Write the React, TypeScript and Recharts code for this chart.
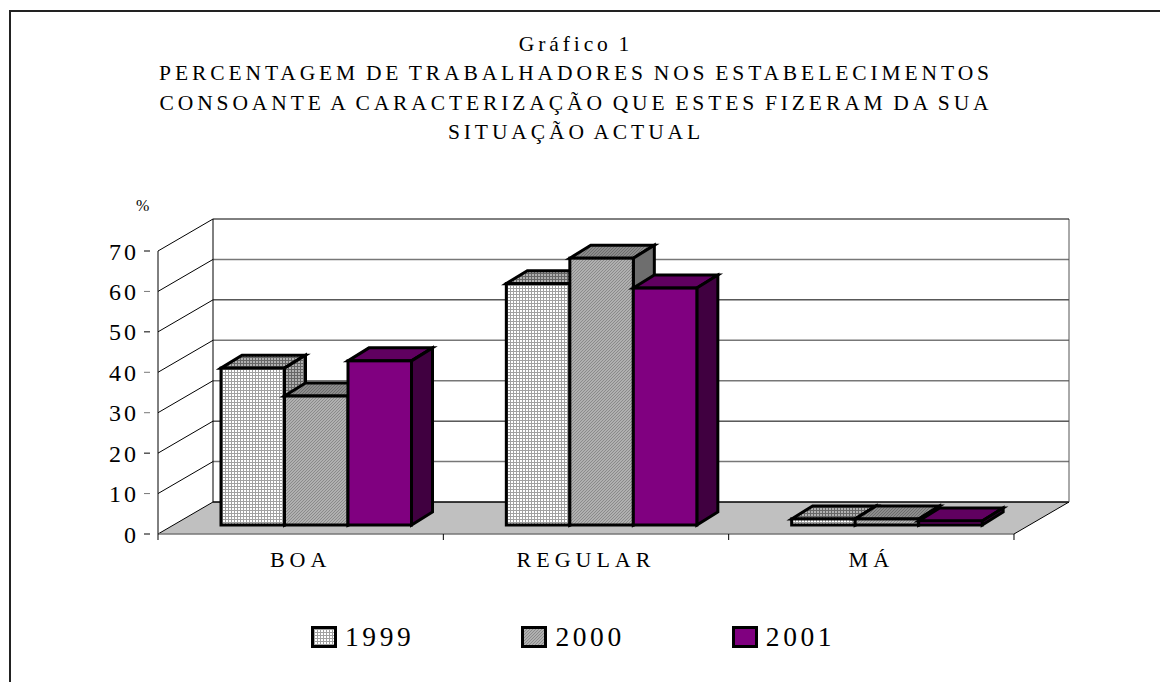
import { BarChart, Bar, XAxis, YAxis, CartesianGrid, Legend } from 'recharts';

const categories = ['BOA', 'REGULAR', 'MÁ'];
const values1999 = [38.8, 59.7, 1.5];
const values2000 = [31.9, 66, 1.5];
const values2001 = [40.6, 58.6, 1];
const yTicks = [0, 10, 20, 30, 40, 50, 60, 70];
const greyTicks = [10, 30, 40, 60];
const titleLines = [
  'Gráfico 1',
  'PERCENTAGEM DE TRABALHADORES NOS ESTABELECIMENTOS',
  'CONSOANTE A CARACTERIZAÇÃO QUE ESTES FIZERAM DA SUA',
  'SITUAÇÃO ACTUAL',
];

const data = categories.map((name, i) => ({
  name,
  y1999: values1999[i],
  y2000: values2000[i],
  y2001: values2001[i],
}));

const serif = '"Liberation Serif", serif';

// how far the back wall sits behind the axes, and the bars behind the axes
const WALL_DX = 55;
const WALL_DY = -32;
const BAR_DX = 16;
const BAR_DY = -9;
const DEPTH_DX = 21;
const DEPTH_DY = -13;

function gridLine(props: any) {
  const { x1, x2, y1, index } = props;
  const isFloor = y1 > 530;
  const isTop = y1 < 260;
  // the scan blurs some of the wall lines to grey
  const tick = Math.round((534 - y1) / 40.43) * 10;
  const grey = greyTicks.includes(tick);
  return (
    <g key={index}>
      {isFloor && (
        <path
          d={`M${x1} ${y1} L${x1 + WALL_DX} ${y1 + WALL_DY} L${x2 + WALL_DX} ${y1 + WALL_DY} L${x2} ${y1} Z`}
          fill="#c0c0c0"
        />
      )}
      {isFloor && (
        <line x1={x2} y1={y1} x2={x2 + WALL_DX} y2={y1 + WALL_DY} stroke="#000" />
      )}
      {isTop && (
        <line x1={x2 + WALL_DX} y1={y1 + WALL_DY} x2={x2 + WALL_DX} y2={y1 + WALL_DY + 283} stroke="#555" />
      )}
      <line x1={x1} y1={y1} x2={x1 + WALL_DX} y2={y1 + WALL_DY} stroke="#000" />
      <line
        x1={x1 + WALL_DX}
        y1={y1 + WALL_DY}
        x2={x2 + WALL_DX}
        y2={y1 + WALL_DY}
        stroke={grey ? '#777' : '#000'}
        strokeWidth={isFloor ? 1.5 : grey ? 1.5 : 1}
      />
      {isTop && (
        <line x1={x1 + WALL_DX} y1={y1 + WALL_DY} x2={x1 + WALL_DX} y2={y1 + WALL_DY + 283} stroke="#000" />
      )}
    </g>
  );
}

function bar3d(front: string, top: string, side: string) {
  return (props: any) => {
    const x = props.x + BAR_DX;
    const y = props.y + BAR_DY;
    const w = props.width;
    const h = props.height;
    return (
      <g stroke="#000" strokeWidth={3} strokeLinejoin="miter">
        <path
          d={`M${x} ${y} L${x + DEPTH_DX} ${y + DEPTH_DY} L${x + w + DEPTH_DX} ${y + DEPTH_DY} L${x + w} ${y} Z`}
          fill={top}
        />
        <path
          d={`M${x + w} ${y} L${x + w + DEPTH_DX} ${y + DEPTH_DY} L${x + w + DEPTH_DX} ${y + h + DEPTH_DY} L${x + w} ${y + h} Z`}
          fill={side}
        />
        <rect x={x} y={y} width={w} height={h} fill={front} />
      </g>
    );
  };
}

function yTick(props: any) {
  const { x, y, payload } = props;
  return (
    <g>
      <line x1={x - 6} y1={y} x2={x} y2={y} stroke={greyTicks.includes(payload.value) ? '#777' : '#000'} />
      <text x={x - 11} y={y + 8.5} textAnchor="end" fontFamily={serif} fontSize={24} letterSpacing={3} fill="#000">
        {payload.value}
      </text>
    </g>
  );
}

function xTick(props: any) {
  const { x, y, payload, index } = props;
  const band = 285.33;
  return (
    <g>
      {index === 0 && <line x1={x - band / 2} y1={y - 8} x2={x - band / 2} y2={y - 2} stroke="#000" />}
      <line x1={x + band / 2} y1={y - 8} x2={x + band / 2} y2={y - 2} stroke="#000" />
      <text x={x} y={y + 25} textAnchor="middle" fontFamily={serif} fontSize={22} letterSpacing={5} fill="#000">
        {payload.value}
      </text>
    </g>
  );
}

function legendContent() {
  const items = [
    { label: '1999', fill: 'url(#check)' },
    { label: '2000', fill: 'url(#hatch)' },
    { label: '2001', fill: '#800080' },
  ];
  return (
    <div style={{ display: 'flex', gap: 107, fontFamily: serif, fontSize: 27.5, letterSpacing: 3.6, lineHeight: '30px', paddingLeft: 311 }}>
      {items.map((it) => (
        <span key={it.label} style={{ display: 'inline-flex', alignItems: 'center', gap: 8 }}>
          <svg width={26} height={22}>
            <rect x={1.5} y={1.5} width={23} height={19} fill={it.fill} stroke="#000" strokeWidth={3} />
          </svg>
          {it.label}
        </span>
      ))}
    </div>
  );
}

export default function App() {
  return (
    <div style={{ position: 'absolute', left: 0, top: 0, width: 1160, height: 682, overflow: 'hidden', background: '#fff' }}>
      <div style={{ position: 'absolute', left: 9, top: 10, width: 1300, height: 800, border: '2px solid #222' }} />
      <div style={{ position: 'absolute', left: -4, top: 29.5, width: 1160, textAlign: 'center', fontFamily: serif, fontSize: 21.5, letterSpacing: 3.9, wordSpacing: -2.5, lineHeight: '29.5px', color: '#000' }}>
        {titleLines.map((l) => (
          <div key={l}>{l}</div>
        ))}
      </div>
      <div style={{ position: 'absolute', left: 136, top: 197, fontFamily: serif, fontSize: 16, color: '#000' }}>%</div>
      <BarChart
        width={1160}
        height={682}
        data={data}
        margin={{ top: 251, right: 146, bottom: 88, left: 118 }}
        barSize={63.5}
        barGap={0}
        style={{ position: 'absolute', left: 0, top: 0 }}
      >
        <defs>
          <pattern id="check" width="3" height="3" patternUnits="userSpaceOnUse">
            <rect width="3" height="3" fill="#fff" />
            <path d="M0 0.5H3M0.5 0V3" stroke="#a0a0a0" strokeWidth="1" />
          </pattern>
          <pattern id="checkDark" width="3" height="3" patternUnits="userSpaceOnUse">
            <rect width="3" height="3" fill="#b0b0b0" />
            <path d="M0 0.5H3M0.5 0V3" stroke="#666" strokeWidth="1" />
          </pattern>
          <pattern id="hatch" width="3" height="3" patternUnits="userSpaceOnUse">
            <rect width="3" height="3" fill="#b0b0b0" />
            <path d="M-1 1L1 -1M0 3L3 0M2 4L4 2" stroke="#8a8a8a" strokeWidth="1" />
          </pattern>
          <pattern id="hatchDark" width="3" height="3" patternUnits="userSpaceOnUse">
            <rect width="3" height="3" fill="#8c8c8c" />
            <path d="M-1 1L1 -1M0 3L3 0M2 4L4 2" stroke="#6c6c6c" strokeWidth="1" />
          </pattern>
        </defs>
        <CartesianGrid horizontal={gridLine} vertical={false} />
        <XAxis
          dataKey="name"
          height={30}
          axisLine={{ stroke: '#777', strokeWidth: 1.5 }}
          tickLine={false}
          interval={0}
          tick={xTick}
        />
        <YAxis
          width={40}
          domain={[0, 70]}
          ticks={yTicks}
          axisLine={{ stroke: '#000' }}
          tickLine={false}
          interval={0}
          tick={yTick}
        />
        <Legend content={legendContent} verticalAlign="bottom" wrapperStyle={{ top: 622, left: 0, width: 1160 }} />
        <Bar dataKey="y1999" name="1999" isAnimationActive={false} shape={bar3d('url(#check)', 'url(#checkDark)', 'url(#checkDark)')} />
        <Bar dataKey="y2000" name="2000" isAnimationActive={false} shape={bar3d('url(#hatch)', 'url(#hatchDark)', '#6e6e6e')} />
        <Bar dataKey="y2001" name="2001" isAnimationActive={false} shape={bar3d('#800080', '#600060', '#400040')} />
      </BarChart>
    </div>
  );
}
